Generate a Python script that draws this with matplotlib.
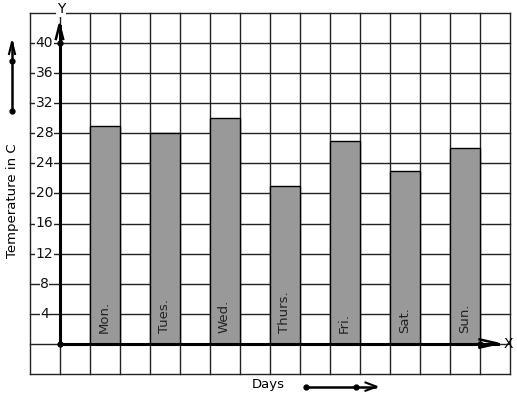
import matplotlib
matplotlib.use("Agg")
import matplotlib.pyplot as plt

days = ["Mon.", "Tues.", "Wed.", "Thurs.", "Fri.", "Sat.", "Sun."]
temps = [29, 28, 30, 21, 27, 23, 26]
y_ticks = [4, 8, 12, 16, 20, 24, 28, 32, 36, 40]

plt.rcParams['font.family'] = ['DejaVu Sans']
fig = plt.figure(figsize=(5.17, 3.99), dpi=100)
ax = fig.add_axes([0, 0, 1, 1])
ax.set_xlim(-59.5 / 30, (517 - 59.5) / 30)
ax.set_ylim((343.5 - 399) / 7.5, 343.5 / 7.5)
ax.axis('off')

# grid
for u in range(-1, 16):
    ax.plot([u, u], [-4, 44], color='#222222', lw=1.0, zorder=1)
for v in range(-4, 45, 4):
    ax.plot([-1, 15], [v, v], color='#222222', lw=1.0, zorder=1)

# bars
xs = [1.5 + 2 * i for i in range(len(days))]
ax.bar(xs, temps, width=1.0, color='#999999', edgecolor='black', lw=1.0, zorder=2)
for x, d in zip(xs, days):
    ax.text(x, 1.4, d, rotation=90, ha='center', va='bottom', fontsize=9.5, color='#222222', zorder=3)

# axes arrows
ax.plot([0, 0], [0, 42.3], color='black', lw=2.2, zorder=4)
ax.plot([0, 14.6], [0, 0], color='black', lw=2.2, zorder=4)
# y arrow head
ax.plot([-0.12, 0, 0.12], [40.6, 42.5, 40.6], color='black', lw=1.8, zorder=4)
# x arrow head
ax.plot([14.0, 14.6, 14.0], [0.55, 0, -0.55], color='black', lw=1.8, zorder=4)
ax.plot([0, 0, 14], [0, 40, 0], 'o', color='black', ms=3.5, zorder=5)

ax.text(14.95, 0, "X", ha='center', va='center', fontsize=10, zorder=5)
ax.text(0.05, 44.6, "Y", ha='center', va='center', fontsize=10, zorder=5,
        bbox=dict(facecolor='white', edgecolor='none', pad=0.5))

for v in y_ticks:
    ax.text(-0.5, v, str(v), ha='center', va='center', fontsize=10, color='#111111', zorder=5,
            bbox=dict(facecolor='white', edgecolor='none', pad=0.2))

# left label and arrow
ax.text(-1.58, 19.1, "Temperature in C", rotation=90, ha='center', va='center', fontsize=9.5)
ax.plot([-1.583, -1.583], [31.0, 40.0], color='black', lw=1.8, clip_on=False)
ax.plot([-1.583 - 0.1, -1.583, -1.583 + 0.1], [38.6, 40.2, 38.6], color='black', lw=1.5)
ax.plot([-1.583, -1.583], [31.0, 37.7], 'o', color='black', ms=3.5)

# bottom label and arrow
ax.text(6.97, -5.5, "Days", ha='center', va='center', fontsize=9.5)
ax.plot([8.22, 10.5], [-5.76, -5.76], color='black', lw=1.8)
ax.plot([10.2, 10.57, 10.2], [-5.2, -5.76, -6.3], color='black', lw=1.5)
ax.plot([8.22, 9.88], [-5.76, -5.76], 'o', color='black', ms=3.5)

fig.savefig("out.png", dpi=100)
